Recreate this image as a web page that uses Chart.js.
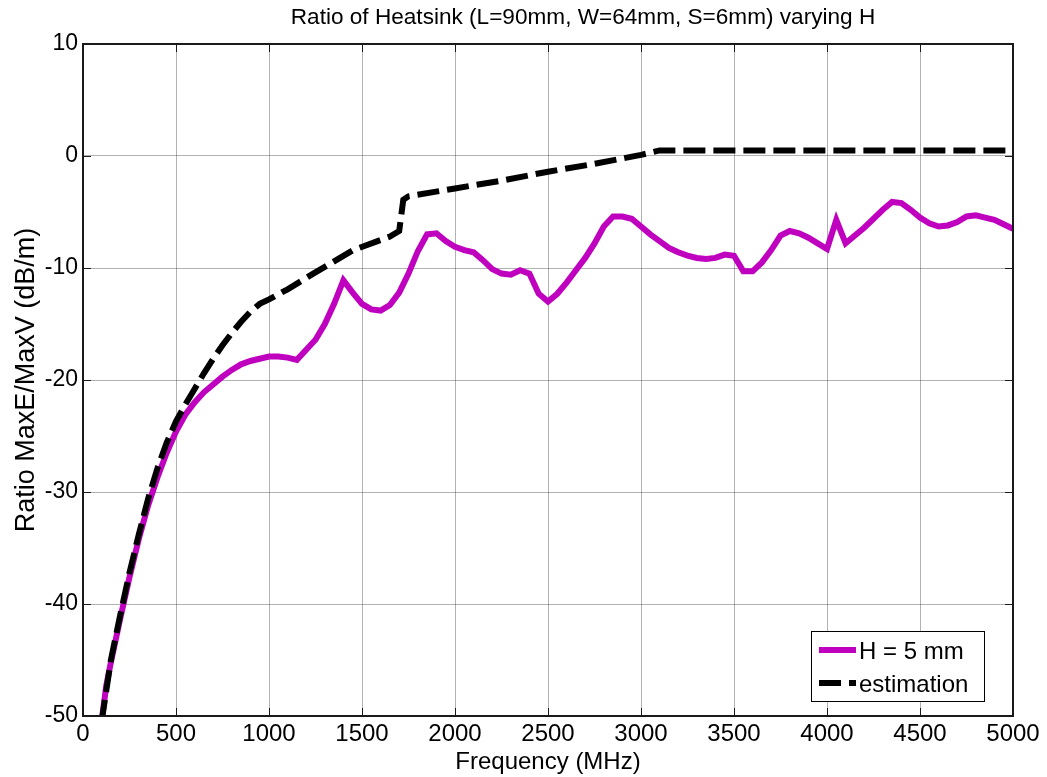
<!DOCTYPE html>
<html>
<head>
<meta charset="utf-8">
<title>Ratio of Heatsink varying H</title>
<script src="https://cdn.jsdelivr.net/npm/chart.js@4.4.1/dist/chart.umd.min.js"></script>
<style>
  html, body { margin: 0; padding: 0; background: #fff; }
  canvas { display: block; }
</style>
</head>
<body>
<canvas id="myChart" width="1047" height="777"></canvas>
<script>
// simulated ratio for H = 5 mm (MHz, dB/m)
const simFreq = [
  100, 125, 150, 200, 250, 300, 350, 400, 450, 500,
  550, 600, 650, 700, 750, 800, 850, 900, 950, 1000,
  1050, 1100, 1150, 1200, 1250, 1300, 1350, 1400, 1450, 1500,
  1550, 1600, 1650, 1700, 1750, 1800, 1850, 1900, 1950, 2000,
  2050, 2100, 2150, 2200, 2250, 2300, 2350, 2400, 2450, 2500,
  2550, 2600, 2650, 2700, 2750, 2800, 2850, 2900, 2950, 3000,
  3050, 3100, 3150, 3200, 3250, 3300, 3350, 3400, 3450, 3500,
  3550, 3600, 3650, 3700, 3750, 3800, 3850, 3900, 3950, 4000,
  4050, 4100, 4150, 4200, 4250, 4300, 4350, 4400, 4450, 4500,
  4550, 4600, 4650, 4700, 4750, 4800, 4850, 4900, 4950, 5000
]
const simRatio = [
  -50.5, -47.3, -45.2, -41.3, -37.6, -34.2, -31.2, -28.7, -26.5, -24.6,
  -23.1, -22.0, -21.1, -20.4, -19.7, -19.1, -18.6, -18.3, -18.1, -17.9,
  -17.9, -18.0, -18.2, -17.3, -16.4, -15.0, -13.2, -11.1, -12.2, -13.2,
  -13.7, -13.8, -13.3, -12.2, -10.5, -8.5, -7.0, -6.9, -7.6, -8.1,
  -8.4, -8.6, -9.3, -10.1, -10.5, -10.6, -10.2, -10.5, -12.3, -13.0,
  -12.3, -11.3, -10.2, -9.1, -7.8, -6.3, -5.4, -5.4, -5.6, -6.3,
  -7.0, -7.6, -8.2, -8.6, -8.9, -9.1, -9.2, -9.1, -8.8, -8.9,
  -10.3, -10.3, -9.5, -8.4, -7.1, -6.7, -6.9, -7.3, -7.8, -8.3,
  -5.7, -7.8, -7.1, -6.4, -5.6, -4.8, -4.1, -4.2, -4.8, -5.5,
  -6.0, -6.3, -6.2, -5.9, -5.4, -5.3, -5.5, -5.7, -6.1, -6.5
]

// estimated ratio
const estFreq = [
  100, 150, 200, 250, 300, 350, 400, 450, 500, 550,
  600, 650, 700, 750, 800, 850, 900, 950, 1000, 1100,
  1238, 1300, 1453, 1600, 1650, 1700, 1722, 1750, 2000, 2250,
  2500, 2750, 3000, 3100, 5000
]
const estRatio = [
  -50.5, -45.0, -41.0, -37.2, -33.8, -30.6, -27.9, -25.6, -23.7, -22.2,
  -20.8, -19.4, -18.1, -16.9, -15.8, -14.8, -13.9, -13.2, -12.8, -11.9,
  -10.5, -9.9, -8.4, -7.5, -7.2, -6.7, -3.9, -3.6, -2.9, -2.2,
  -1.4, -0.7, 0.1, 0.5, 0.5
]

const seriesLabels = ['H = 5 mm', 'estimation']
const xTicks = [0, 500, 1000, 1500, 2000, 2500, 3000, 3500, 4000, 4500, 5000]
const yTicks = [-50, -40, -30, -20, -10, 0, 10]
const chartTitle = 'Ratio of Heatsink (L=90mm, W=64mm, S=6mm) varying H'

const FONT = '"Liberation Sans", Arial, sans-serif'

const toPoints = (xs, ys) => xs.map((x, i) => ({ x: x, y: ys[i] }))

// title above the axes
const topTitle = {
  id: 'topTitle',
  afterDraw(chart) {
    const { ctx, chartArea: a } = chart
    ctx.save()
    ctx.fillStyle = '#000'
    ctx.font = '22.6px ' + FONT
    ctx.textAlign = 'center'
    ctx.textBaseline = 'middle'
    ctx.fillText(chartTitle, (a.left + a.right) / 2 + 35, 18)
    ctx.restore()
  }
}

// axes box with inward tick marks, drawn over the lines
const frame = {
  id: 'frame',
  afterDatasetsDraw(chart) {
    const { ctx, chartArea: a, scales: { x, y } } = chart
    const tl = 8
    ctx.save()
    ctx.strokeStyle = '#1a1a1a'
    ctx.lineWidth = 1
    ctx.beginPath()
    xTicks.forEach(v => {
      const px = Math.round(x.getPixelForValue(v)) + 0.5
      ctx.moveTo(px, a.bottom); ctx.lineTo(px, a.bottom - tl)
      ctx.moveTo(px, a.top); ctx.lineTo(px, a.top + tl)
    })
    yTicks.forEach(v => {
      const py = Math.round(y.getPixelForValue(v)) + 0.5
      ctx.moveTo(a.left, py); ctx.lineTo(a.left + tl, py)
      ctx.moveTo(a.right, py); ctx.lineTo(a.right - tl, py)
    })
    ctx.stroke()
    ctx.lineWidth = 2
    ctx.strokeRect(a.left, a.top, a.right - a.left, a.bottom - a.top)
    ctx.restore()
  }
}

// boxed legend in the lower right corner
const legendBox = {
  id: 'legendBox',
  afterDraw(chart) {
    const { ctx, chartArea: a } = chart
    const w = 173, h = 70
    const bx = a.right - 29 - w, by = a.bottom - 15 - h
    ctx.save()
    ctx.fillStyle = '#fff'
    ctx.fillRect(bx, by, w, h)
    ctx.strokeStyle = '#000'
    ctx.lineWidth = 1
    ctx.strokeRect(bx + 0.5, by + 0.5, w, h)
    chart.data.datasets.forEach((ds, i) => {
      const cy = by + 19 + i * 33
      ctx.beginPath()
      ctx.strokeStyle = ds.borderColor
      ctx.lineWidth = ds.borderWidth
      ctx.lineCap = 'butt'
      ctx.setLineDash(ds.borderDash || [])
      ctx.moveTo(bx + 8, cy)
      ctx.lineTo(bx + 45, cy)
      ctx.stroke()
      ctx.setLineDash([])
      ctx.fillStyle = '#000'
      ctx.font = '24px ' + FONT
      ctx.textBaseline = 'middle'
      ctx.textAlign = 'left'
      ctx.fillText(ds.label, bx + 48, cy + 2)
    })
    ctx.restore()
  }
}

const ctx = document.getElementById('myChart').getContext('2d')

const config = {
  type: 'line',
  data: {
    datasets: [
      {
        label: seriesLabels[0],
        data: toPoints(simFreq, simRatio),
        borderColor: 'rgb(191, 0, 191)',
        borderWidth: 6,
        pointRadius: 0,
        tension: 0,
        clip: 0,
        order: 1
      },
      {
        label: seriesLabels[1],
        data: toPoints(estFreq, estRatio),
        borderColor: '#000',
        borderWidth: 6,
        borderDash: [22, 8],
        borderCapStyle: 'butt',
        pointRadius: 0,
        tension: 0,
        clip: 0,
        order: 0
      }
    ]
  },
  options: {
    responsive: false,
    animation: false,
    layout: { padding: { left: 0, right: 34, top: 44, bottom: 0 } },
    plugins: {
      legend: { display: false },
      tooltip: { enabled: false },
      title: { display: false }
    },
    scales: {
      x: {
        type: 'linear',
        min: 0,
        max: 5000,
        afterBuildTicks: scale => { scale.ticks = xTicks.map(v => ({ value: v })) },
        afterFit: scale => { scale.height = 61 },
        grid: { color: 'rgba(0,0,0,0.3)', lineWidth: 1, drawTicks: false },
        border: { display: false },
        ticks: {
          color: '#000',
          padding: 4,
          maxRotation: 0,
          font: { family: FONT, size: 24 },
          callback: v => String(v)
        },
        title: {
          display: true,
          text: 'Frequency (MHz)',
          color: '#000',
          font: { family: FONT, size: 24 },
          padding: { top: 2, bottom: 0 }
        }
      },
      y: {
        min: -50,
        max: 10,
        afterBuildTicks: scale => { scale.ticks = yTicks.map(v => ({ value: v })) },
        afterFit: scale => { scale.width = 83 },
        grid: { color: 'rgba(0,0,0,0.3)', lineWidth: 1, drawTicks: false },
        border: { display: false },
        ticks: {
          color: '#000',
          padding: 5,
          font: { family: FONT, size: 23 },
          callback: v => String(v)
        },
        title: {
          display: true,
          text: 'Ratio MaxE/MaxV (dB/m)',
          color: '#000',
          font: { family: FONT, size: 27 },
          padding: { top: 10, bottom: 0 }
        }
      }
    }
  },
  plugins: [frame, legendBox, topTitle]
}

const myLineChart = new Chart(ctx, config)
</script>
</body>
</html>
